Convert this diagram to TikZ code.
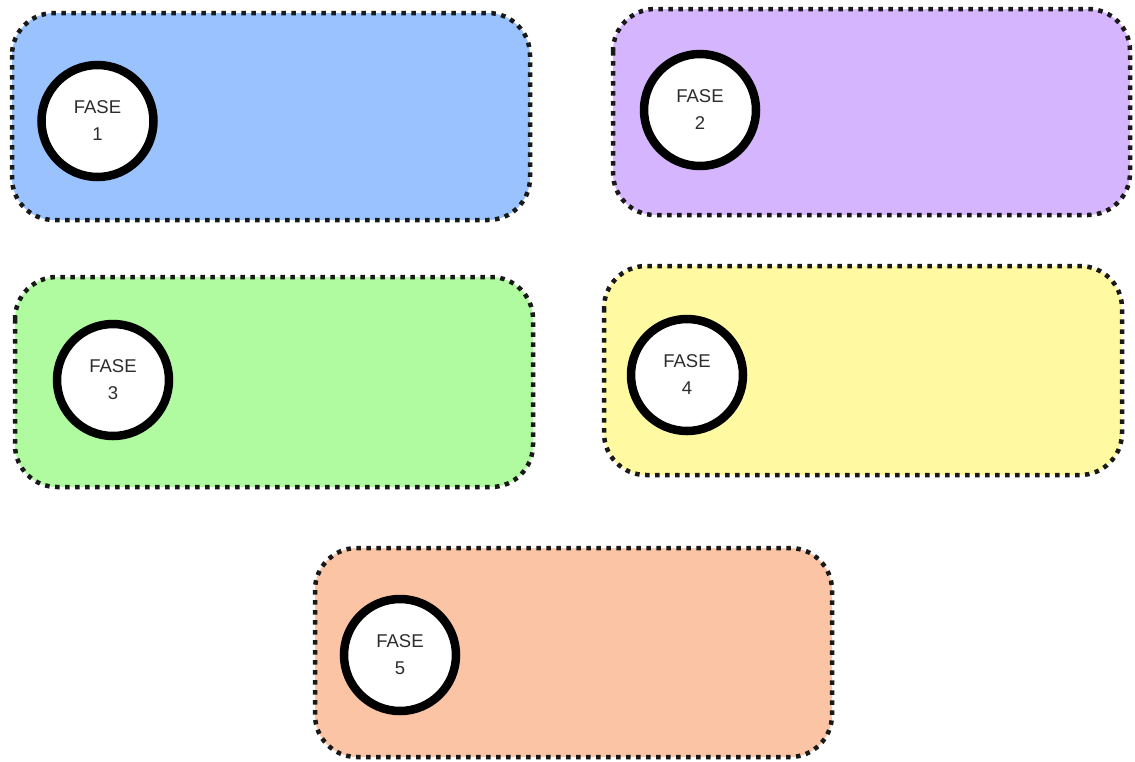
\documentclass[tikz,border=0pt]{standalone}
\usepackage{fontspec}
\setmainfont{Liberation Sans}
\definecolor{cblue}{RGB}{153,194,255}
\definecolor{cpurple}{RGB}{214,181,255}
\definecolor{cgreen}{RGB}{176,250,160}
\definecolor{cyellow}{RGB}{255,250,162}
\definecolor{corange}{RGB}{250,196,165}
\definecolor{ctext}{RGB}{45,45,45}
\begin{document}
\begin{tikzpicture}[x=1pt,y=-1pt,
  phasebox/.style={draw=black!90,line width=4.5pt,dash pattern=on 4.5pt off 5.5pt,rounded corners=42pt},
  phasecircle/.style={circle,draw=black,line width=8.5pt,fill=white,minimum size=112pt,inner sep=0pt,
     align=center,font=\fontsize{18.5}{27}\selectfont,text=ctext}]
\useasboundingbox[fill=white] (0,0) rectangle (1135,761);
\path[phasebox,fill=cblue] (12,13) rectangle (530,220);
\path[phasebox,fill=cpurple] (613,9) rectangle (1130,215);
\path[phasebox,fill=cgreen] (15,277) rectangle (533,487);
\path[phasebox,fill=cyellow] (604,266) rectangle (1122,475);
\path[phasebox,fill=corange] (315,548) rectangle (832,757);
\node[phasecircle] (f1) at (97.5,121) {FASE\\1};
\node[phasecircle] (f2) at (700,110) {FASE\\2};
\node[phasecircle] (f3) at (113,380) {FASE\\3};
\node[phasecircle] (f4) at (687,375) {FASE\\4};
\node[phasecircle] (f5) at (400,655) {FASE\\5};
\end{tikzpicture}
\end{document}
